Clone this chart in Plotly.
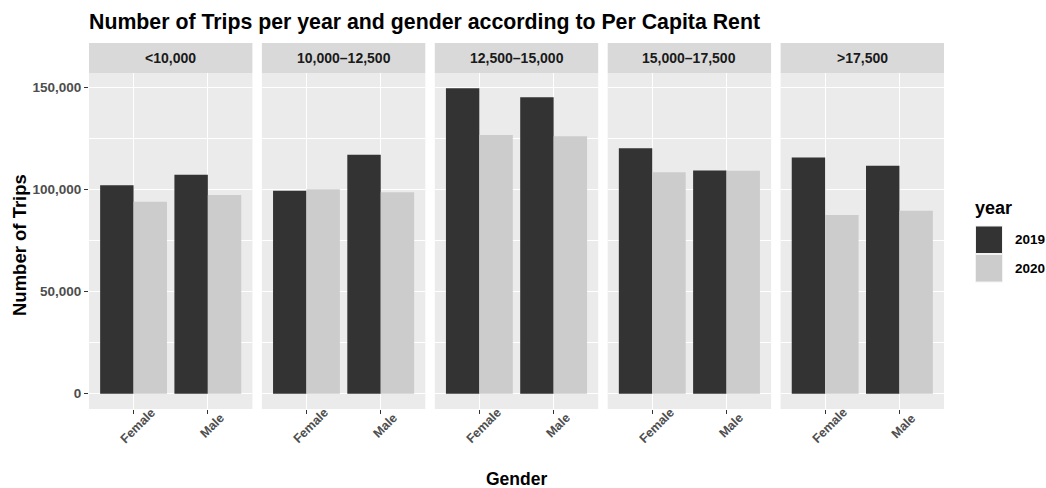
import plotly.graph_objects as go
from plotly.subplots import make_subplots

panels = ["<10,000", "10,000\u201312,500", "12,500\u201315,000", "15,000\u201317,500", ">17,500"]
genders = ["Female", "Male"]
years = ["2019", "2020"]
trips_2019 = [[102000, 107200], [99300, 117000], [149500, 145100], [120100, 109200], [115600, 111600]]
trips_2020 = [[94000, 97300], [100100, 98600], [126600, 126000], [108400, 109100], [87500, 89500]]
y_ticks = [0, 50000, 100000, 150000]
y_tick_labels = ["0", "50,000", "100,000", "150,000"]
colors = {"2019": "#333333", "2020": "#cccccc"}

W, H = 1046, 488
ml, mr, mt, mb = 89, 102, 43, 79
n = len(panels)
gap_px = 9.5
plot_w = W - ml - mr
panel_w = (plot_w - gap_px * (n - 1)) / n
ptop, pbot = 73, 409
ph = pbot - mt
ydom_top = (pbot - ptop) / ph

fig = make_subplots(rows=1, cols=n, shared_yaxes=True, horizontal_spacing=gap_px / plot_w)

ymax = max(max(max(a), max(b)) for a, b in zip(trips_2019, trips_2020))
yrange = [-0.05 * ymax, 1.05 * ymax]


def px_x(x):
    return (x - ml) / plot_w


def px_y(y):
    return (pbot - y) / ph


for i, name in enumerate(panels):
    xa = "x" + ("" if i == 0 else str(i + 1))
    for yr, vals in (("2019", trips_2019[i]), ("2020", trips_2020[i])):
        fig.add_trace(go.Bar(x=genders, y=vals, name=yr, marker_color=colors[yr],
                             marker_line_width=0, showlegend=False,
                             offsetgroup=yr), row=1, col=i + 1)
    x0 = i * (panel_w + gap_px) / plot_w
    x1 = x0 + panel_w / plot_w
    fig.add_shape(type="rect", xref="paper", yref="paper", x0=x0, x1=x1, y0=ydom_top, y1=1,
                  fillcolor="#d9d9d9", line_width=0, layer="below")
    fig.add_annotation(text="<b>%s</b>" % name, xref="paper", yref="paper", x=(x0 + x1) / 2,
                       y=(ydom_top + 1) / 2, showarrow=False, xanchor="center", yanchor="middle",
                       font=dict(size=14, color="#1a1a1a"))
    for g in genders:
        fig.add_annotation(text="<b>%s</b>" % g, xref=xa, yref="paper", x=g, xshift=4,
                           y=px_y(425.5), textangle=-45, showarrow=False,
                           xanchor="center", yanchor="middle",
                           font=dict(size=12.5, color="#4d4d4d"))

fig.update_xaxes(range=[-0.6, 1.6], showgrid=True, gridcolor="white", gridwidth=1.1,
                 ticks="outside", ticklen=4, tickcolor="#333333", tickwidth=1,
                 showticklabels=False, showline=False, zeroline=False)
for i in range(n):
    x0 = i * (panel_w + gap_px) / plot_w
    fig.layout["xaxis" + ("" if i == 0 else str(i + 1))].domain = [x0, x0 + panel_w / plot_w]
fig.update_yaxes(range=yrange, domain=[0, ydom_top], tickvals=y_ticks, ticktext=y_tick_labels,
                 showgrid=True, gridcolor="white", gridwidth=1.1,
                 minor=dict(dtick=25000, tick0=0, showgrid=True, gridcolor="white", gridwidth=0.5),
                 zeroline=False, showline=False)
fig.update_yaxes(ticks="outside", ticklen=4, tickcolor="#333333", tickwidth=1,
                 tickfont=dict(size=13.5, color="#4d4d4d", family="Liberation Sans", weight="bold"),
                 row=1, col=1)

fig.update_layout(
    width=W, height=H, margin=dict(l=ml, r=mr, t=mt, b=mb),
    paper_bgcolor="white", plot_bgcolor="#ebebeb",
    barmode="group", bargap=0.1, bargroupgap=0,
    font=dict(family="Liberation Sans", color="#000000"),
    title=dict(text="<b>Number of Trips per year and gender according to Per Capita Rent</b>",
               x=ml / W, xanchor="left", y=1 - 22 / H, yanchor="middle",
               font=dict(size=21.3, color="#000000")),
)

fig.add_annotation(text="<b>Number of Trips</b>", textangle=-90, xref="paper", yref="paper",
                   x=px_x(19.5), y=px_y(245.5), xanchor="center", yanchor="middle",
                   showarrow=False, font=dict(size=18.5, color="#000000"))
fig.add_annotation(text="<b>Gender</b>", xref="paper", yref="paper",
                   x=px_x(516.5), y=px_y(478.5), xanchor="center", yanchor="middle",
                   showarrow=False, font=dict(size=17.5, color="#000000"))

# legend drawn manually
fig.add_annotation(text="<b>year</b>", xref="paper", yref="paper",
                   x=px_x(973), y=px_y(208), xanchor="left", yanchor="middle",
                   showarrow=False, font=dict(size=18, color="#000000"))
key_top = 225.5
key_h = 28.5
for k, yr in enumerate(years):
    t = key_top + k * key_h
    fig.add_shape(type="rect", xref="paper", yref="paper",
                  x0=px_x(975), x1=px_x(1003), y0=px_y(t + key_h), y1=px_y(t),
                  fillcolor="#f2f2f2", line_width=0)
    fig.add_shape(type="rect", xref="paper", yref="paper",
                  x0=px_x(976), x1=px_x(1002), y0=px_y(t + key_h - 1), y1=px_y(t + 1),
                  fillcolor=colors[yr], line_width=0)
    fig.add_annotation(text="<b>%s</b>" % yr, xref="paper", yref="paper",
                       x=px_x(1013), y=px_y(t + key_h / 2), xanchor="left", yanchor="middle",
                       showarrow=False, font=dict(size=13.5, color="#000000"))

fig.write_html("out.html", config={"displayModeBar": False},
               post_script="document.body.style.margin='0px';")
